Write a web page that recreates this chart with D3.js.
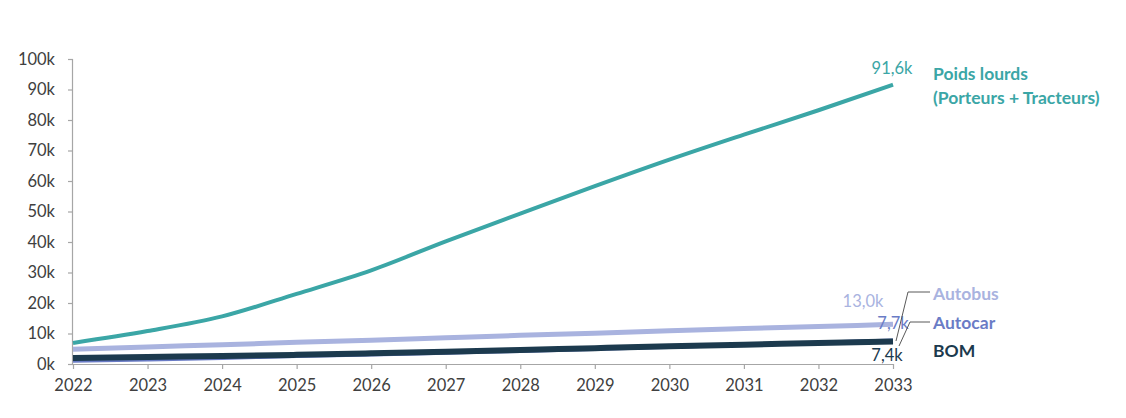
<!DOCTYPE html>
<html><head><meta charset="utf-8">
<script src="https://cdn.jsdelivr.net/npm/d3@7"></script>
<style>
html,body{margin:0;padding:0;background:#fff;}
svg{display:block;font-family:Lato,"Open Sans",sans-serif;}
</style></head>
<body>
<svg id="chart" width="1126" height="418"></svg>
<script>
const years = [2022,2023,2024,2025,2026,2027,2028,2029,2030,2031,2032,2033];
const poidsLourds = [6900,10800,15600,23000,30700,40200,49300,58300,67000,75200,83200,91600];
const autobus = [4800,5600,6300,7100,7800,8600,9400,10100,10900,11600,12300,13000];
const autocar = [1100,1500,2000,2600,3100,3700,4300,4900,5600,6300,7000,7700];
const bom = [2000,2300,2600,3000,3500,4000,4600,5200,5800,6300,6900,7400];
const yTicks = [0,10000,20000,30000,40000,50000,60000,70000,80000,90000,100000];

const series = [
  {name:"Autobus", values:autobus, color:"#a9b3df", width:5},
  {name:"Autocar", values:autocar, color:"#6a7cc6", width:4},
  {name:"BOM", values:bom, color:"#1c3a4e", width:6},
  {name:"Poids lourds", values:poidsLourds, color:"#3ba6a6", width:4}
];

const svg = d3.select("#chart");
const x = d3.scaleLinear().domain([2022,2033]).range([73,893]);
const y = d3.scaleLinear().domain([0,100000]).range([364,59]);

// Y axis
const yAxis = svg.append("g").attr("transform","translate(73,0)")
  .call(d3.axisLeft(y).tickValues(yTicks).tickSize(5).tickPadding(13)
    .tickFormat(d => (d/1000) + "k"));
yAxis.selectAll("path,line").attr("stroke","#a6a6a6").attr("stroke-width",1.2);
yAxis.selectAll("text").attr("fill","#404040").style("font-size","16.5px").style("font-family","Lato");

// X axis
const xAxis = svg.append("g").attr("transform","translate(0,364)")
  .call(d3.axisBottom(x).tickValues(years).tickSize(5).tickPadding(10).tickFormat(d3.format("d")));
xAxis.selectAll("path,line").attr("stroke","#a6a6a6").attr("stroke-width",1.2);
xAxis.selectAll("text").attr("fill","#404040").style("font-size","16.5px").style("font-family","Lato");
xAxis.select(".domain").attr("d","M73,0.5H893");
yAxis.select(".domain").attr("d","M-0.5,364V59");

// Lines
const line = d3.line().x((d,i)=>x(years[i])).y(d=>y(d)).curve(d3.curveMonotoneX);
series.forEach(s => {
  svg.append("path").datum(s.values)
    .attr("fill","none").attr("stroke",s.color).attr("stroke-width",s.width)
    .attr("stroke-linejoin","round")
    .attr("d", line);
});

// End value labels
const lab = svg.append("g").style("font-family","Lato").style("font-size","16.5px");
lab.append("text").attr("x",892).attr("y",y(91600)-11).attr("text-anchor","middle").attr("fill","#3ba6a6").text("91,6k");
lab.append("text").attr("x",863).attr("y",y(13000)-17).attr("text-anchor","middle").attr("fill","#a9b3df").text("13,0k");
lab.append("text").attr("x",893).attr("y",y(13000)+5).attr("text-anchor","middle").attr("fill","#6a7cc6").text("7,7k");
lab.append("text").attr("x",887).attr("y",y(7400)+20).attr("text-anchor","middle").attr("fill","#1c3a4e").text("7,4k");

// Leader lines
const lead = svg.append("g").attr("fill","none").attr("stroke","#595959").attr("stroke-width",1);
lead.append("path").attr("d","M930,292H908L896,341");
lead.append("path").attr("d","M930,322H910L899,346");

// Series names
const nm = svg.append("g").style("font-family","Lato").style("font-size","17.5px").style("font-weight","bold");
nm.append("text").attr("x",933).attr("y",80).attr("fill","#3ba6a6").text("Poids lourds");
nm.append("text").attr("x",933).attr("y",104).attr("fill","#3ba6a6").text("(Porteurs + Tracteurs)");
nm.append("text").attr("x",933).attr("y",300).attr("fill","#a9b3df").text("Autobus");
nm.append("text").attr("x",933).attr("y",329).attr("fill","#6a7cc6").text("Autocar");
nm.append("text").attr("x",933).attr("y",357).attr("fill","#1c3a4e").text("BOM");
</script>
</body></html>
